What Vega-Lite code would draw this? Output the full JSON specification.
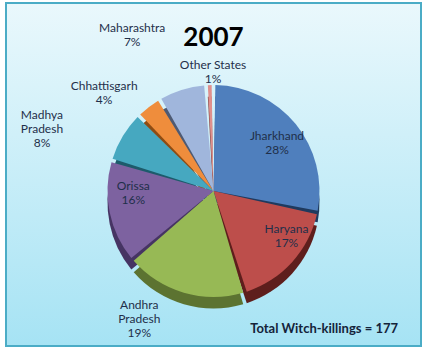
{
  "$schema": "https://vega.github.io/schema/vega-lite/v6.json",
  "background": "white",
  "padding": {"left": 5, "top": 2, "right": 7, "bottom": 6},
  "config": {
    "font": "Lato",
    "text": {"font": "Lato", "fontSize": 12, "color": "#1f2f4a", "lineBreak": "\n"}
  },
  "title": {
    "text": "Total Witch-killings = 177",
    "orient": "bottom",
    "anchor": "end",
    "offset": -30,
    "dx": -24,
    "fontSize": 13,
    "fontWeight": "bold",
    "font": "Lato",
    "color": "#14233a"
  },
  "vconcat": [
    {
      "width": 415,
      "height": 343,
      "view": {
        "fill": {"gradient": "linear", "x1": 0, "y1": 0, "x2": 0, "y2": 1, "stops": [{"offset": 0, "color": "#eaf8fc"}, {"offset": 1, "color": "#a6e3f4"}]},
        "stroke": "#4bacc6", "strokeWidth": 2
      },
      "title": {"text": "2007", "offset": -48, "fontSize": 26, "fontWeight": "bold", "font": "Lato", "color": "#000000", "anchor": "middle"},
      "data": {
        "values": [
          {"state": "Jharkhand", "rank": 1, "killings": 50, "label": "Jharkhand\n28%"},
          {"state": "Haryana", "rank": 2, "killings": 30, "label": "Haryana\n17%"},
          {"state": "Andhra Pradesh", "rank": 3, "killings": 33, "label": "Andhra\nPradesh\n19%"},
          {"state": "Orissa", "rank": 4, "killings": 28, "label": "Orissa\n16%"},
          {"state": "Madhya Pradesh", "rank": 5, "killings": 14, "label": "Madhya\nPradesh\n8%"},
          {"state": "Chhattisgarh", "rank": 6, "killings": 7, "label": "Chhattisgarh\n4%"},
          {"state": "Maharashtra", "rank": 7, "killings": 13, "label": "Maharashtra\n7%"},
          {"state": "Other States", "rank": 8, "killings": 2, "label": "Other States\n1%"}
        ]
      },
      "encoding": {
        "theta": {"field": "killings", "type": "quantitative", "stack": true},
        "order": {"field": "rank", "type": "quantitative", "sort": "ascending"}
      },
      "layer": [
        {
          "mark": {"type": "arc", "radius": 106, "yOffset": 28, "padAngle": 0.035},
          "encoding": {
            "color": {
              "field": "state", "type": "nominal",
              "sort": ["Jharkhand", "Haryana", "Andhra Pradesh", "Orissa", "Madhya Pradesh", "Chhattisgarh", "Maharashtra", "Other States"],
              "scale": {"range": ["#1f3a5e", "#5e1e1c", "#5c7331", "#463463", "#1d5b6b", "#8e4c13", "#4e5a73", "#8a4a48"]},
              "legend": null
            }
          }
        },
        {
          "mark": {"type": "arc", "radius": 106, "yOffset": 16.5, "padAngle": 0.035},
          "encoding": {
            "color": {
              "field": "state", "type": "nominal",
              "sort": ["Jharkhand", "Haryana", "Andhra Pradesh", "Orissa", "Madhya Pradesh", "Chhattisgarh", "Maharashtra", "Other States"],
              "scale": {"range": ["#4f7fbd", "#bd4e4b", "#97b955", "#7d62a0", "#46a8c0", "#ef8d3c", "#a0b6dc", "#e0908d"]},
              "legend": null
            }
          }
        },
        {
          "mark": {"type": "text", "radius": 78, "yOffset": 10.5, "dx": 3},
          "encoding": {
            "text": {"condition": {"test": "datum.state == 'Jharkhand'", "field": "label"}, "value": ""}
          }
        },
        {
          "mark": {"type": "text", "radius": 85, "yOffset": -3, "dx": 10},
          "encoding": {
            "text": {"condition": {"test": "datum.state == 'Haryana'", "field": "label"}, "value": ""}
          }
        },
        {
          "mark": {"type": "text", "radius": 86, "yOffset": -6, "dx": 4},
          "encoding": {
            "text": {"condition": {"test": "datum.state == 'Orissa'", "field": "label"}, "value": ""}
          }
        },
        {
          "mark": {"type": "text", "radius": 150, "yOffset": 17.5, "dx": -43},
          "encoding": {
            "text": {"condition": {"test": "datum.state == 'Madhya Pradesh'", "field": "label"}, "value": ""}
          }
        },
        {
          "mark": {"type": "text", "radius": 148, "yOffset": 28.5, "dx": -19},
          "encoding": {
            "text": {"condition": {"test": "datum.state == 'Chhattisgarh'", "field": "label"}, "value": ""}
          }
        },
        {
          "mark": {"type": "text", "radius": 166, "yOffset": 12.5, "dx": -32},
          "encoding": {
            "text": {"condition": {"test": "datum.state == 'Maharashtra'", "field": "label"}, "value": ""}
          }
        },
        {
          "mark": {"type": "text", "radius": 115, "yOffset": 20, "dx": -42},
          "encoding": {
            "text": {"condition": {"test": "datum.state == 'Andhra Pradesh'", "field": "label"}, "value": ""}
          }
        },
        {
          "mark": {"type": "text", "radius": 126, "yOffset": 16.5, "dx": 4},
          "encoding": {
            "text": {"condition": {"test": "datum.state == 'Other States'", "field": "label"}, "value": ""}
          }
        }
      ],
      "resolve": {"scale": {"color": "independent"}}
    }
  ]
}
